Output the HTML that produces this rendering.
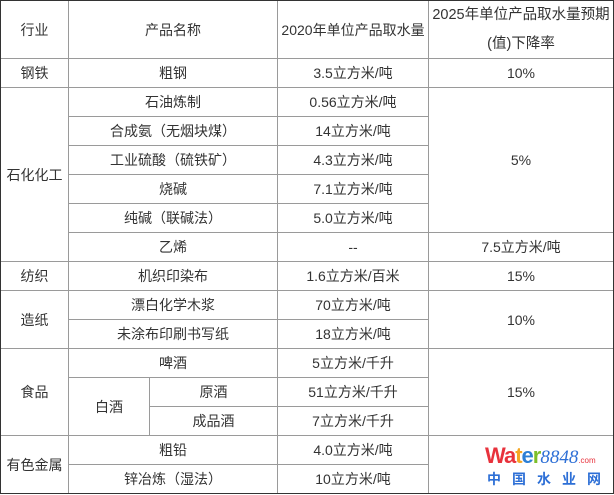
<!DOCTYPE html>
<html><head><meta charset="utf-8"><style>
body{margin:0;background:#fff;width:614px;height:495px;overflow:hidden;position:relative;font-family:"Liberation Sans","Noto Sans CJK SC",sans-serif;color:#333;font-size:14px}
.c{position:absolute;box-sizing:border-box;border:1px solid #9a9a9a;display:flex;align-items:center;justify-content:center;text-align:center;background:#fff;white-space:nowrap}
.o{position:absolute;left:0;top:0;width:614px;height:494px;box-sizing:border-box;border:1px solid #333;pointer-events:none}
</style></head><body>
<div class="c" style="left:0;top:0;width:69px;height:59px">行业</div>
<div class="c" style="left:68px;top:0;width:210px;height:59px">产品名称</div>
<div class="c" style="left:277px;top:0;width:152px;height:59px">2020年单位产品取水量</div>
<div class="c" style="left:428px;top:0;width:186px;height:59px;line-height:29px;font-size:14.5px">2025年单位产品取水量预期<br>(值)下降率</div>

<div class="c" style="left:0;top:58px;width:69px;height:30px">钢铁</div>
<div class="c" style="left:68px;top:58px;width:210px;height:30px">粗钢</div>
<div class="c" style="left:277px;top:58px;width:152px;height:30px">3.5立方米/吨</div>
<div class="c" style="left:428px;top:58px;width:186px;height:30px">10%</div>

<div class="c" style="left:0;top:87px;width:69px;height:175px">石化化工</div>
<div class="c" style="left:68px;top:87px;width:210px;height:30px">石油炼制</div>
<div class="c" style="left:277px;top:87px;width:152px;height:30px">0.56立方米/吨</div>
<div class="c" style="left:68px;top:116px;width:210px;height:30px">合成氨（无烟块煤）</div>
<div class="c" style="left:277px;top:116px;width:152px;height:30px">14立方米/吨</div>
<div class="c" style="left:68px;top:145px;width:210px;height:30px">工业硫酸（硫铁矿）</div>
<div class="c" style="left:277px;top:145px;width:152px;height:30px">4.3立方米/吨</div>
<div class="c" style="left:68px;top:174px;width:210px;height:30px">烧碱</div>
<div class="c" style="left:277px;top:174px;width:152px;height:30px">7.1立方米/吨</div>
<div class="c" style="left:68px;top:203px;width:210px;height:30px">纯碱（联碱法）</div>
<div class="c" style="left:277px;top:203px;width:152px;height:30px">5.0立方米/吨</div>
<div class="c" style="left:68px;top:232px;width:210px;height:30px">乙烯</div>
<div class="c" style="left:277px;top:232px;width:152px;height:30px">--</div>
<div class="c" style="left:428px;top:87px;width:186px;height:146px">5%</div>
<div class="c" style="left:428px;top:232px;width:186px;height:30px">7.5立方米/吨</div>

<div class="c" style="left:0;top:261px;width:69px;height:30px">纺织</div>
<div class="c" style="left:68px;top:261px;width:210px;height:30px">机织印染布</div>
<div class="c" style="left:277px;top:261px;width:152px;height:30px">1.6立方米/百米</div>
<div class="c" style="left:428px;top:261px;width:186px;height:30px">15%</div>

<div class="c" style="left:0;top:290px;width:69px;height:59px">造纸</div>
<div class="c" style="left:68px;top:290px;width:210px;height:30px">漂白化学木浆</div>
<div class="c" style="left:277px;top:290px;width:152px;height:30px">70立方米/吨</div>
<div class="c" style="left:68px;top:319px;width:210px;height:30px">未涂布印刷书写纸</div>
<div class="c" style="left:277px;top:319px;width:152px;height:30px">18立方米/吨</div>
<div class="c" style="left:428px;top:290px;width:186px;height:59px">10%</div>

<div class="c" style="left:0;top:348px;width:69px;height:88px">食品</div>
<div class="c" style="left:68px;top:348px;width:210px;height:30px">啤酒</div>
<div class="c" style="left:277px;top:348px;width:152px;height:30px">5立方米/千升</div>
<div class="c" style="left:68px;top:377px;width:82px;height:59px">白酒</div>
<div class="c" style="left:149px;top:377px;width:129px;height:30px">原酒</div>
<div class="c" style="left:277px;top:377px;width:152px;height:30px">51立方米/千升</div>
<div class="c" style="left:149px;top:406px;width:129px;height:30px">成品酒</div>
<div class="c" style="left:277px;top:406px;width:152px;height:30px">7立方米/千升</div>
<div class="c" style="left:428px;top:348px;width:186px;height:88px">15%</div>

<div class="c" style="left:0;top:435px;width:69px;height:59px">有色金属</div>
<div class="c" style="left:68px;top:435px;width:210px;height:30px">粗铅</div>
<div class="c" style="left:277px;top:435px;width:152px;height:30px">4.0立方米/吨</div>
<div class="c" style="left:68px;top:464px;width:210px;height:30px">锌冶炼（湿法）</div>
<div class="c" style="left:277px;top:464px;width:152px;height:30px">10立方米/吨</div>
<div class="c" style="left:428px;top:435px;width:186px;height:59px"></div>

<div style="position:absolute;left:485px;top:444px;font-size:22px;font-weight:bold;letter-spacing:-1px;line-height:24px"><span style="color:#e8323c">Wa</span><span style="color:#f5a623">t</span><span style="color:#2d7fd6">e</span><span style="color:#7cbf2a">r</span><span style="color:#2d6fd6;font-family:'Liberation Serif',serif;font-style:italic;font-weight:normal;font-size:19px;letter-spacing:0">8848</span><span style="color:#e8323c;font-size:8px;font-weight:normal;letter-spacing:0">.com</span></div>
<div style="position:absolute;left:487px;top:470px;font-size:14px;font-weight:bold;color:#2d6fd6;letter-spacing:11px;line-height:18px">中国水业网</div>
<div class="o"></div>
</body></html>
